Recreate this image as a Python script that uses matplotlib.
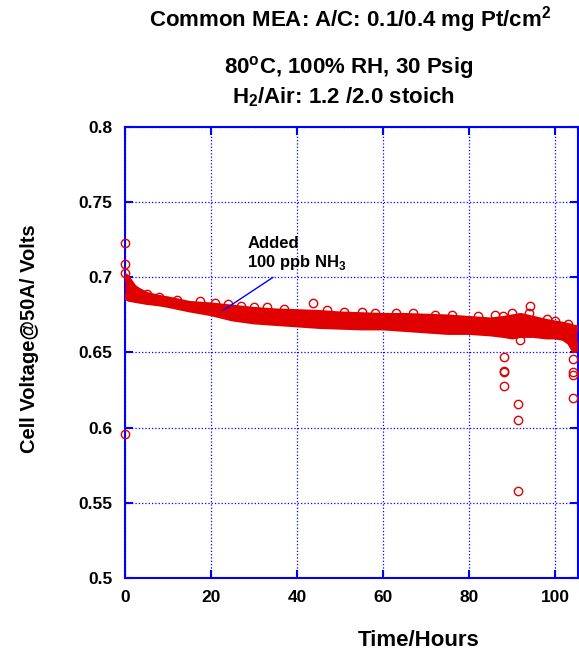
import numpy as np
import matplotlib.pyplot as plt

plt.rcParams['font.family'] = ['Liberation Sans', 'DejaVu Sans']
plt.rcParams['font.weight'] = 'bold'
plt.rcParams['mathtext.fontset'] = 'custom'
plt.rcParams['mathtext.rm'] = 'Liberation Sans:bold'
plt.rcParams['mathtext.bf'] = 'Liberation Sans:bold'

# main trace, read as upper / lower edge of the dense band of points
t_band = [0, 0.5, 1, 2, 3, 5, 8, 10, 15, 20, 25, 30, 35, 40, 45, 50, 55, 60,
          65, 70, 75, 80, 85, 88, 90, 92, 95, 98, 100, 102, 103.5, 104.5, 105]
v_upper = [0.7005, 0.699, 0.697, 0.693, 0.691, 0.688, 0.686, 0.685, 0.682, 0.681,
           0.6795, 0.678, 0.677, 0.6765, 0.676, 0.675, 0.6745, 0.674, 0.674, 0.6735,
           0.673, 0.672, 0.671, 0.672, 0.673, 0.674, 0.672, 0.670, 0.669, 0.668,
           0.667, 0.666, 0.666]
v_lower = [0.687, 0.687, 0.686, 0.6855, 0.685, 0.684, 0.683, 0.682, 0.679, 0.6765,
           0.673, 0.671, 0.670, 0.669, 0.668, 0.6675, 0.667, 0.667, 0.666, 0.665,
           0.664, 0.664, 0.663, 0.662, 0.661, 0.662, 0.662, 0.661, 0.661, 0.660,
           0.657, 0.652, 0.655]

# scattered points off / on the edge of the band
t_out = [0, 0, 0, 0, 43.7, 88.1, 88.1, 88.1, 88.1, 91.4, 91.4, 91.4, 94.2, 93.8,
         91.8, 87.9, 104.2, 104.2, 104.2, 104.2,
         5, 8, 12, 17.5, 21, 24, 27, 30, 33, 37, 47, 51, 55, 58, 63, 67, 72, 76,
         82, 86, 90, 98, 100, 103]
v_out = [0.723, 0.709, 0.703, 0.596, 0.683, 0.647, 0.638, 0.637, 0.628, 0.616,
         0.605, 0.558, 0.681, 0.676, 0.658, 0.674, 0.646, 0.637, 0.635, 0.620,
         0.689, 0.687, 0.685, 0.684, 0.683, 0.682, 0.681, 0.680, 0.680, 0.679,
         0.678, 0.677, 0.677, 0.676, 0.676, 0.676, 0.675, 0.675, 0.674, 0.675,
         0.676, 0.672, 0.671, 0.669]

fig = plt.figure(figsize=(5.79, 6.57), dpi=100)
ax = fig.add_axes([125/579, 79/657, 453/579, 451/657])

red = '#e00000'
ax.fill_between(t_band, v_lower, v_upper, color=red, lw=0, zorder=3)
ax.plot(t_band, v_upper, color=red, lw=5, solid_capstyle='round', zorder=3)
ax.plot(t_band, v_lower, color=red, lw=5, solid_capstyle='round', zorder=3)
ax.plot(t_out, v_out, 'o', mfc='none', mec=red, ms=6, mew=1, zorder=4, clip_on=False)

ax.text(28.4, 0.7035, 'Added\n100 ppb NH$_3$', fontsize=12, fontweight='bold',
        ha='left', va='bottom', linespacing=1.15, zorder=5)
ax.annotate('', xy=(22.8, 0.678), xytext=(34.4, 0.700),
            arrowprops=dict(arrowstyle='-', color='blue', lw=1,
                            shrinkA=0, shrinkB=0), zorder=5)

ax.set_xlim(0, 105.3)
ax.set_ylim(0.5, 0.8)
ax.set_xticks([0, 20, 40, 60, 80, 100])
ax.set_yticks([0.5, 0.55, 0.6, 0.65, 0.7, 0.75, 0.8])
ax.set_yticklabels(['0.5', '0.55', '0.6', '0.65', '0.7', '0.75', '0.8'])
ax.grid(True, color='blue', linestyle=':', lw=0.9)
ax.set_axisbelow(True)
for s in ax.spines.values():
    s.set_color('blue')
    s.set_linewidth(1.5)
ax.tick_params(direction='in', colors='blue', length=6, width=1.5,
               top=True, right=True, labelsize=12.5, labelcolor='black', pad=9)
for lab in ax.get_xticklabels() + ax.get_yticklabels():
    lab.set_fontweight('bold')

ax.set_xlabel('Time/Hours', fontsize=16, fontweight='bold', va='center')
ax.xaxis.set_label_coords((419 - 125) / 453, -(640 - 578) / 451)
ax.set_ylabel('Cell Voltage@50A/ Volts', fontsize=14.5, fontweight='bold', va='center')
ax.yaxis.set_label_coords(-(125 - 30) / 453, (578 - 339) / 451)

fig.text(350/579, 1 - 20/657, 'Common MEA: A/C: 0.1/0.4 mg Pt/cm$^2$',
         ha='center', va='center', fontsize=16, fontweight='bold')
fig.text(349/579, 1 - 68/657, '80$^{\\mathrm{o}}$C, 100% RH, 30 Psig',
         ha='center', va='center', fontsize=16, fontweight='bold')
fig.text(343/579, 1 - 97/657, 'H$_2$/Air: 1.2 /2.0 stoich',
         ha='center', va='center', fontsize=16, fontweight='bold')

fig.savefig('out.png', dpi=100)
